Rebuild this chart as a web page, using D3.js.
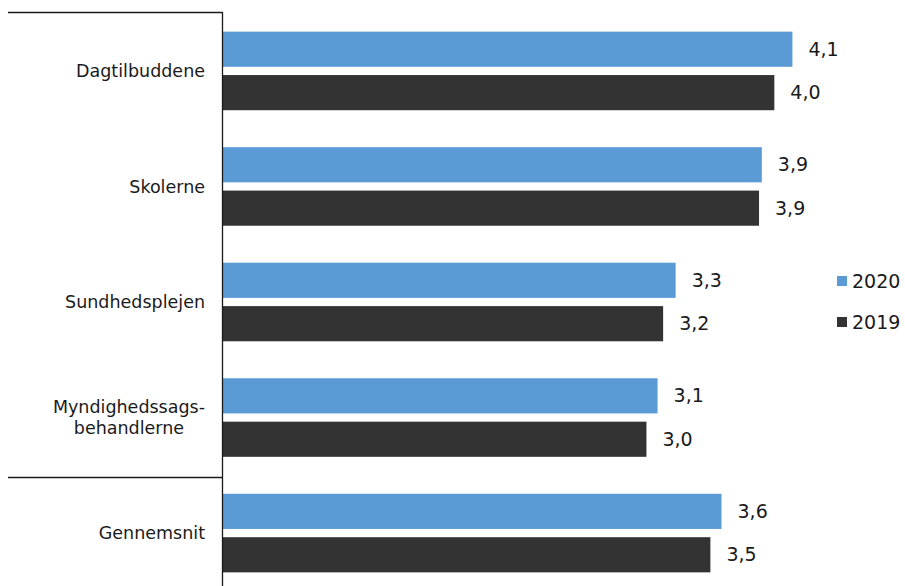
<!DOCTYPE html>
<html>
<head>
<meta charset="utf-8">
<script src="https://cdn.jsdelivr.net/npm/d3@7"></script>
<style>
  body { margin: 0; background: #fff; }
  text { font-family: "DejaVu Sans", Verdana, sans-serif; fill: #1a1a1a; }
</style>
</head>
<body>
<script>
// Categories (top to bottom) and the two series.
var categories = ['Dagtilbuddene', 'Skolerne', 'Sundhedsplejen', 'Myndighedssags-\nbehandlerne', 'Gennemsnit'];
var years = ['2020', '2019'];
var values2020 = [4.10, 3.88, 3.26, 3.13, 3.59];
var values2019 = [3.97, 3.86, 3.17, 3.05, 3.51];
var colors = ['#5b9bd5', '#333333'];

var width = 905,
    height = 586,
    axisX = 222.5;

var svg = d3.select('body').append('svg')
  .attr('width', width)
  .attr('height', height);

// Danish number format: decimal comma.
var fmt = d3.formatLocale({ decimal: ',', thousands: '.', grouping: [3], currency: ['', ' kr.'] }).format('.1f');

var x = d3.scaleLinear().domain([0, 5]).range([axisX, axisX + 695]);

var y = d3.scaleBand()
  .domain(categories)
  .range([12, 592])
  .paddingInner(0.32)
  .paddingOuter(0.17);

var ySub = d3.scaleBand()
  .domain(years)
  .range([0, y.bandwidth()])
  .paddingInner(0.19);

var series = [values2020, values2019];

var groups = svg.selectAll('g.cat')
  .data(categories)
  .enter().append('g')
  .attr('class', 'cat')
  .attr('transform', function (d) { return 'translate(0,' + y(d) + ')'; });

groups.each(function (cat, i) {
  var g = d3.select(this);
  years.forEach(function (yr, j) {
    var v = series[j][i];
    g.append('rect')
      .attr('x', x(0))
      .attr('y', ySub(yr))
      .attr('width', x(v) - x(0))
      .attr('height', ySub.bandwidth())
      .attr('fill', colors[j]);
    g.append('text')
      .attr('x', x(v) + 16)
      .attr('y', ySub(yr) + ySub.bandwidth() / 2)
      .attr('dy', '0.35em')
      .style('font-size', '19px')
      .text(fmt(v));
  });

  // Category label: right edge at x=205, wrapped lines centred in their block.
  var lines = cat.split('\n');
  var lineH = 21;
  var mid = y.bandwidth() / 2;
  var t = g.append('text')
    .style('font-size', '17.5px');
  lines.forEach(function (ln, k) {
    t.append('tspan')
      .attr('y', mid + (k - (lines.length - 1) / 2) * lineH)
      .attr('dy', '0.35em')
      .text(ln);
  });
  var widths = [];
  t.selectAll('tspan').each(function () { widths.push(this.getComputedTextLength()); });
  var blockW = d3.max(widths);
  t.selectAll('tspan')
    .attr('text-anchor', 'middle')
    .attr('x', 205 - blockW / 2);
});

// Axis line and the rule lines in the label column.
svg.append('line')
  .attr('x1', axisX).attr('x2', axisX)
  .attr('y1', 12).attr('y2', height)
  .attr('stroke', '#1a1a1a').attr('stroke-width', 1.3);

var ruleY = [12.5, Math.round(y(categories[4]) - 17) + 0.5];
svg.selectAll('line.rule')
  .data(ruleY)
  .enter().append('line')
  .attr('class', 'rule')
  .attr('x1', 8).attr('x2', axisX)
  .attr('y1', function (d) { return d; })
  .attr('y2', function (d) { return d; })
  .attr('stroke', '#1a1a1a').attr('stroke-width', 1.3);

// Legend.
var legend = svg.selectAll('g.legend')
  .data(years)
  .enter().append('g')
  .attr('class', 'legend')
  .attr('transform', function (d, i) { return 'translate(837,' + (276 + i * 41) + ')'; });

legend.append('rect')
  .attr('width', 10).attr('height', 10)
  .attr('fill', function (d, i) { return colors[i]; });

legend.append('text')
  .attr('x', 15).attr('y', 5)
  .attr('dy', '0.35em')
  .style('font-size', '19px')
  .text(function (d) { return d; });
</script>
</body>
</html>
